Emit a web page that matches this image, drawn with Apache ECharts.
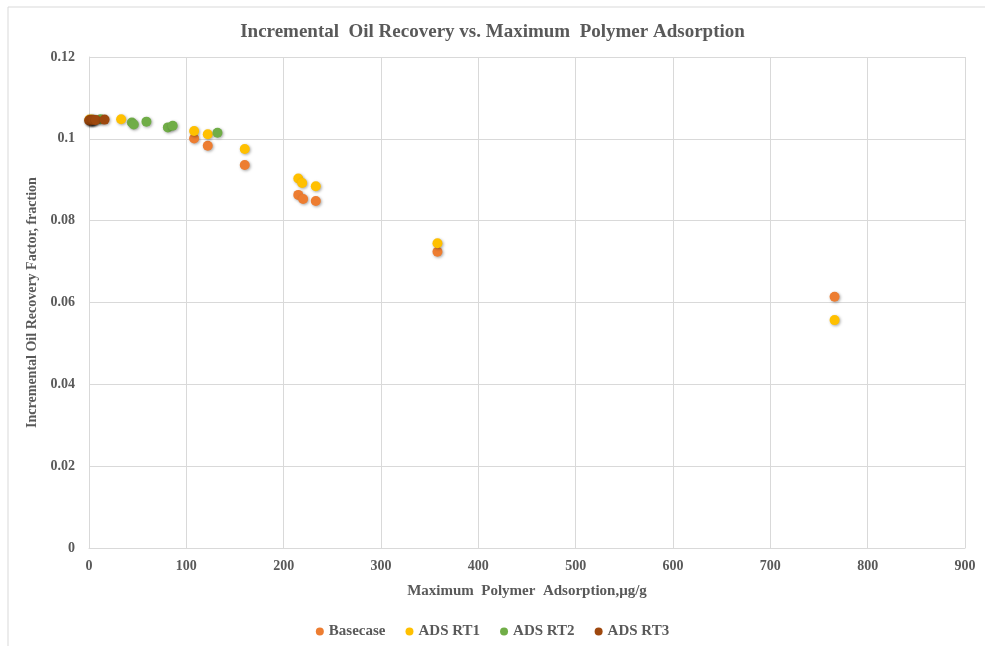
<!DOCTYPE html>
<html><head><meta charset="utf-8">
<script src="https://cdn.jsdelivr.net/npm/echarts@6/dist/echarts.min.js"></script>
<style>html,body{margin:0;padding:0;background:#fff}#c{width:985px;height:646px}</style>
</head><body><div id="c"></div>
<script>
var basecase = [[0.5,0.1046],[3,0.1046],[108,0.1001],[122,0.0983],[160,0.0936],[215,0.0863],[220,0.0853],[233,0.0848],[358,0.0724],[766,0.0614]];
var adsRT1 = [[0.5,0.1047],[3,0.1047],[33,0.1048],[108,0.1019],[122,0.1011],[160,0.0975],[215,0.0903],[219,0.0892],[233,0.0884],[358,0.0745],[766,0.0557]];
var adsRT2 = [[12,0.1048],[44,0.1040],[46,0.1035],[59,0.1042],[81,0.1028],[86,0.1032],[132,0.1015]];
var adsRT3 = [[0.2,0.1045],[1,0.1046],[2,0.1045],[3,0.1046],[4,0.1046],[5,0.1046],[7,0.1046],[16,0.1047]];
var seriesNames = ['Basecase','ADS RT1','ADS RT2','ADS RT3'];
var colors = ['#ED7D31','#FFC000','#70AD47','#9E480E'];
var font = 'Liberation Serif';
var txt = '#595959';
function mk(name, data, color){
  return {name:name,type:'scatter',data:data,symbolSize:10,
    itemStyle:{color:color,opacity:1,shadowBlur:3,shadowColor:'rgba(0,0,0,0.35)',shadowOffsetX:1,shadowOffsetY:1}};
}
var chart = echarts.init(document.getElementById('c'));
chart.setOption({
  animation:false,
  color:colors,
  graphic:[{type:'rect',shape:{x:8,y:7,width:990,height:650},style:{fill:'none',stroke:'#d9d9d9',lineWidth:1},silent:true}],
  title:{text:'Incremental  Oil Recovery vs. Maximum  Polymer Adsorption',left:'center',top:18,
    textStyle:{fontFamily:font,fontSize:19,fontWeight:'bold',color:txt}},
  legend:{bottom:2,left:'center',icon:'circle',itemWidth:8,itemHeight:8,itemGap:20,
    data:seriesNames,textStyle:{fontFamily:font,fontSize:15,fontWeight:'bold',color:txt}},
  grid:{left:89,right:20,top:57,bottom:98},
  xAxis:{type:'value',min:0,max:900,interval:100,
    name:'Maximum  Polymer  Adsorption,μg/g',nameLocation:'middle',nameGap:36,
    nameTextStyle:{fontFamily:font,fontSize:15,fontWeight:'bold',color:txt},
    axisLine:{show:true,lineStyle:{color:'#d9d9d9'}},axisTick:{show:false},
    axisLabel:{fontFamily:font,fontSize:14,fontWeight:'bold',color:txt,margin:11},
    splitLine:{show:true,lineStyle:{color:'#d9d9d9'}}},
  yAxis:{type:'value',min:0,max:0.12,interval:0.02,
    name:'Incremental Oil Recovery Factor, fraction',nameLocation:'middle',nameGap:46,
    nameTextStyle:{fontFamily:font,fontSize:14,fontWeight:'bold',color:txt},
    axisLine:{show:true,lineStyle:{color:'#d9d9d9'}},axisTick:{show:false},
    axisLabel:{fontFamily:font,fontSize:14,fontWeight:'bold',color:txt,margin:14,formatter:function(v){return String(+v.toFixed(2));}},
    splitLine:{show:true,lineStyle:{color:'#d9d9d9'}}},
  series:[mk(seriesNames[0],basecase,colors[0]),mk(seriesNames[1],adsRT1,colors[1]),mk(seriesNames[2],adsRT2,colors[2]),mk(seriesNames[3],adsRT3,colors[3])]
});
</script></body></html>
